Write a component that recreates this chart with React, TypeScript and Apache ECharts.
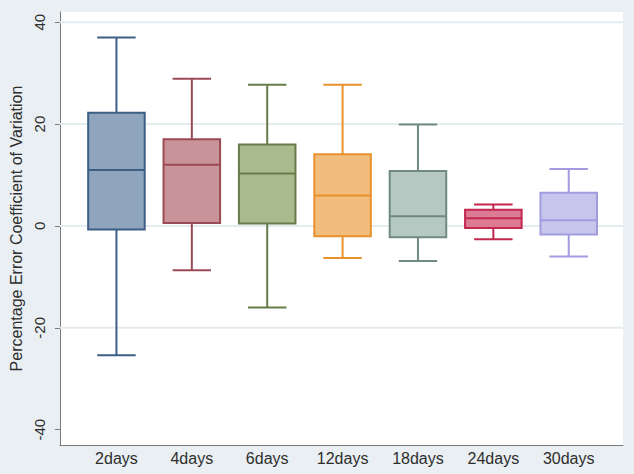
import React, { useEffect, useRef } from "react";
import * as echarts from "echarts";

const categories = ["2days", "4days", "6days", "12days", "18days", "24days", "30days"];
const whiskerLow = [-25.4, -8.7, -16.0, -6.3, -6.9, -2.6, -6.0];
const quartile1 = [-0.7, 0.6, 0.5, -2.0, -2.2, -0.4, -1.7];
const medians = [11.0, 12.0, 10.3, 6.0, 1.9, 1.5, 1.1];
const quartile3 = [22.2, 17.0, 16.0, 14.1, 10.8, 3.2, 6.5];
const whiskerHigh = [37.0, 28.9, 27.7, 27.7, 19.9, 4.2, 11.2];
const yTicks = [-40, -20, 0, 20, 40];
const gridValues = [40, 20, 0, -20];

const fillColors = ["#8ea5bd", "#c9939a", "#a9ba8f", "#f0bd7c", "#b5c8c2", "#dc7b93", "#c8c5ec"];
const strokeColors = ["#3d5f85", "#9a4a55", "#667c48", "#e8912e", "#6f8a83", "#c2284f", "#a29be0"];

const FONT = "'Liberation Sans', Arial, Helvetica, sans-serif";
const TEXT = "#2e2e2e";

export default function App() {
  const ref = useRef<HTMLDivElement>(null);

  useEffect(() => {
    if (!ref.current) return;
    const chart = echarts.init(ref.current, undefined, { renderer: "svg" });

    const boxData = categories.map((c, i) => [
      i + 1,
      whiskerLow[i],
      quartile1[i],
      medians[i],
      quartile3[i],
      whiskerHigh[i],
    ]);

    const option: any = {
      animation: false,
      backgroundColor: "#e9eff2",
      textStyle: { fontFamily: FONT },
      grid: {
        show: true,
        left: 53,
        right: 11,
        top: 12,
        bottom: 29,
        backgroundColor: "#ffffff",
        borderWidth: 0,
        containLabel: false,
      },
      xAxis: {
        type: "value",
        min: 0.25,
        max: 7.72,
        axisLine: { show: true, onZero: false, lineStyle: { color: "#7a7a7a", width: 1 } },
        axisTick: { show: false },
        splitLine: { show: false },
        axisLabel: {
          customValues: categories.map((c, i) => i + 1),
          formatter: (v: number) => categories[Math.round(v) - 1] ?? "",
          fontSize: 16,
          color: TEXT,
          fontFamily: FONT,
          margin: 5,
        },
      },
      yAxis: {
        type: "value",
        min: -43,
        max: 42,
        name: "Percentage Error Coefficient of Variation",
        nameLocation: "middle",
        nameGap: 31,
        nameTextStyle: { fontSize: 16, color: TEXT, fontFamily: FONT },
        axisLine: { show: true, onZero: false, lineStyle: { color: "#7a7a7a", width: 1 } },
        axisTick: {
          show: true,
          customValues: yTicks,
          length: 5,
          lineStyle: { color: "#7a7a7a" },
        },
        splitLine: { show: false },
        axisLabel: {
          customValues: yTicks,
          rotate: 90,
          fontSize: 15,
          color: TEXT,
          fontFamily: FONT,
          margin: 13,
        },
      },
      series: [
        {
          type: "custom",
          name: "grid",
          silent: true,
          z: 1,
          data: gridValues.map((v) => [v]),
          encode: { y: 0 },
          renderItem: (params: any, api: any) => {
            const cs = params.coordSys;
            const y = api.coord([1, api.value(0)])[1];
            return {
              type: "line",
              shape: { x1: cs.x, y1: y, x2: cs.x + cs.width, y2: y },
              style: { stroke: "#e5ecf0", lineWidth: 2 },
            };
          },
        },
        {
          type: "custom",
          name: "box",
          z: 2,
          data: boxData,
          encode: { x: 0, y: [1, 2, 3, 4, 5] },
          renderItem: (params: any, api: any) => {
            const i = params.dataIndex;
            const x = api.value(0);
            const pMin = api.coord([x, api.value(1)]);
            const pQ1 = api.coord([x, api.value(2)]);
            const pMed = api.coord([x, api.value(3)]);
            const pQ3 = api.coord([x, api.value(4)]);
            const pMax = api.coord([x, api.value(5)]);
            const band = api.size([1, 0])[0];
            const boxW = band * 0.75;
            const capW = band * 0.51;
            const cx = pMed[0];
            const stroke = strokeColors[i];
            const fill = fillColors[i];
            const ls = { stroke, lineWidth: 2 };
            return {
              type: "group",
              children: [
                {
                  type: "line",
                  shape: { x1: cx, y1: pQ3[1], x2: cx, y2: pMax[1] },
                  style: ls,
                },
                {
                  type: "line",
                  shape: { x1: cx - capW / 2, y1: pMax[1], x2: cx + capW / 2, y2: pMax[1] },
                  style: ls,
                },
                {
                  type: "line",
                  shape: { x1: cx, y1: pQ1[1], x2: cx, y2: pMin[1] },
                  style: ls,
                },
                {
                  type: "line",
                  shape: { x1: cx - capW / 2, y1: pMin[1], x2: cx + capW / 2, y2: pMin[1] },
                  style: ls,
                },
                {
                  type: "rect",
                  shape: {
                    x: cx - boxW / 2,
                    y: pQ3[1],
                    width: boxW,
                    height: pQ1[1] - pQ3[1],
                  },
                  style: { fill, stroke, lineWidth: 2 },
                },
                {
                  type: "line",
                  shape: { x1: cx - boxW / 2, y1: pMed[1], x2: cx + boxW / 2, y2: pMed[1] },
                  style: ls,
                },
              ],
            };
          },
        },
      ],
    };

    chart.setOption(option);
    return () => {
      chart.dispose();
    };
  }, []);

  return (
    <div
      ref={ref}
      style={{ position: "fixed", left: 0, top: 0, width: 634, height: 474 }}
    />
  );
}
